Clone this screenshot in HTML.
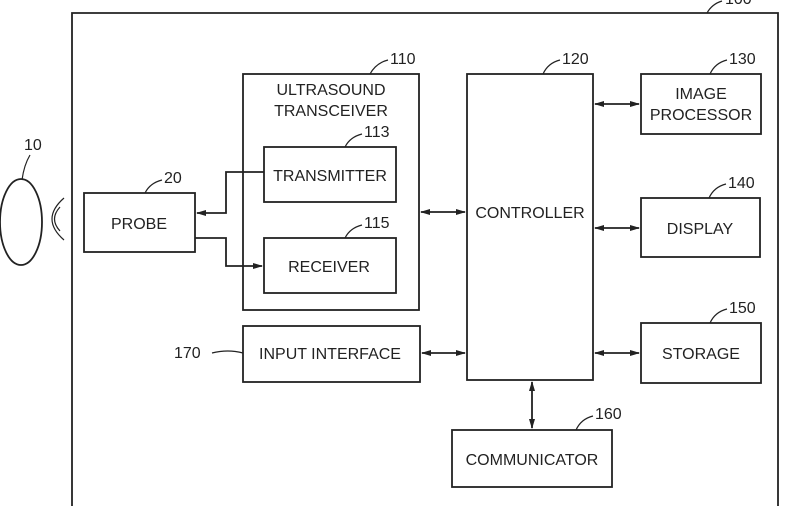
<!DOCTYPE html>
<html><head><style>body{margin:0;background:#fff}svg text{font-family:"Liberation Sans",sans-serif;fill:#222}</style></head><body>
<svg width="801" height="506" viewBox="0 0 801 506" xmlns="http://www.w3.org/2000/svg">
<defs><marker id="a" markerWidth="10" markerHeight="8" refX="9" refY="4" orient="auto-start-reverse" markerUnits="userSpaceOnUse"><path d="M0,1 L10,4 L0,7 Z" fill="#222"/></marker></defs>
<g fill="none" stroke="#222" stroke-width="1.8">
<path d="M72,506 V13 H778 V506"/>
<ellipse cx="21" cy="222" rx="21" ry="43"/>
<path d="M64,198 Q40,219 64,240" stroke-width="1.2"/><path d="M60,207 Q49,219 60,231" stroke-width="1.2"/>
<rect x="84" y="193" width="111" height="59"/>
<rect x="243" y="74" width="176" height="236"/>
<rect x="264" y="147" width="132" height="55"/>
<rect x="264" y="238" width="132" height="55"/>
<rect x="243" y="326" width="177" height="56"/>
<rect x="467" y="74" width="126" height="306"/>
<rect x="641" y="74" width="120" height="60"/>
<rect x="641" y="198" width="119" height="59"/>
<rect x="641" y="323" width="120" height="60"/>
<rect x="452" y="430" width="160" height="57"/>
<path d="M264,172 H226 V213 H197" marker-end="url(#a)"/>
<path d="M195,238 H226 V266 H262" marker-end="url(#a)"/>
<path d="M421,212 H465" marker-start="url(#a)" marker-end="url(#a)"/>
<path d="M422,353 H465" marker-start="url(#a)" marker-end="url(#a)"/>
<path d="M595,104 H639" marker-start="url(#a)" marker-end="url(#a)"/>
<path d="M595,228 H639" marker-start="url(#a)" marker-end="url(#a)"/>
<path d="M595,353 H639" marker-start="url(#a)" marker-end="url(#a)"/>
<path d="M532,382 V428" marker-start="url(#a)" marker-end="url(#a)"/>
</g>
<g fill="none" stroke="#222" stroke-width="1.2">
<path d="M22,180 Q24,165 30,155"/>
<path d="M145,193 Q150,183 162,180"/>
<path d="M370,74 Q376,63 388,60"/>
<path d="M345,147 Q350,137 362,134"/>
<path d="M345,238 Q350,228 362,225"/>
<path d="M543,74 Q548,63 560,60"/>
<path d="M710,74 Q715,63 727,60"/>
<path d="M709,198 Q714,187 726,184"/>
<path d="M710,323 Q715,312 727,309"/>
<path d="M576,430 Q581,419 593,416"/>
<path d="M212,353 Q228,349 243,353"/>
<path d="M707,13 Q712,4 722,1"/>
</g>
<g font-size="16">
<text x="24" y="150">10</text>
<text x="164" y="183">20</text>
<text x="390" y="64">110</text>
<text x="364" y="137">113</text>
<text x="364" y="228">115</text>
<text x="562" y="64">120</text>
<text x="729" y="64">130</text>
<text x="728" y="188">140</text>
<text x="729" y="313">150</text>
<text x="595" y="419">160</text>
<text x="174" y="358">170</text>
<text x="725" y="4">100</text>
</g>
<g font-size="16" text-anchor="middle">
<text x="139" y="229">PROBE</text>
<text x="331" y="95">ULTRASOUND</text>
<text x="331" y="116">TRANSCEIVER</text>
<text x="330" y="181">TRANSMITTER</text>
<text x="329" y="272">RECEIVER</text>
<text x="330" y="359">INPUT INTERFACE</text>
<text x="530" y="218">CONTROLLER</text>
<text x="701" y="99">IMAGE</text>
<text x="701" y="120">PROCESSOR</text>
<text x="700" y="234">DISPLAY</text>
<text x="701" y="359">STORAGE</text>
<text x="532" y="465">COMMUNICATOR</text>
</g>
</svg>
</body></html>
